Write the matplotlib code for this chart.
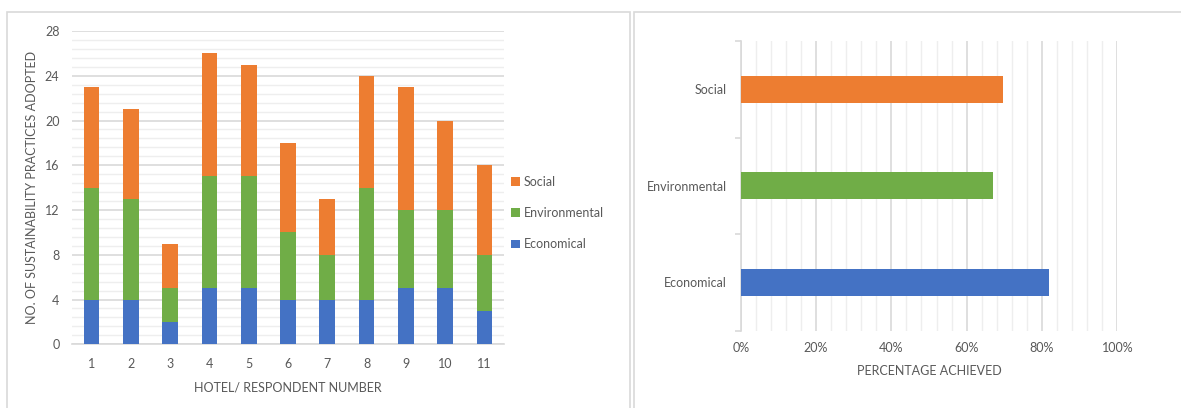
import matplotlib.pyplot as plt
from matplotlib.patches import Rectangle
from matplotlib.ticker import MultipleLocator, PercentFormatter

plt.rcParams['font.family'] = ['Lato', 'DejaVu Sans']

# ---------------- data ----------------
hotels = ['1', '2', '3', '4', '5', '6', '7', '8', '9', '10', '11']
economical = [4, 4, 2, 5, 5, 4, 4, 4, 5, 5, 3]
environmental = [10, 9, 3, 10, 10, 6, 4, 10, 7, 7, 5]
social = [9, 8, 4, 11, 10, 8, 5, 10, 11, 8, 8]

categories = ['Economical', 'Environmental', 'Social']
achieved = [81.8, 66.9, 69.7]

c_econ = '#4472C4'
c_env = '#70AD47'
c_soc = '#ED7D31'
txt = '#595959'
W, H = 1181, 408

fig = plt.figure(figsize=(W / 100, H / 100), dpi=100)

# panel borders
fig.patches.append(Rectangle((7 / W, -0.1), (630 - 7) / W, 1 - 11.5 / H + 0.1,
                             transform=fig.transFigure, fill=False,
                             edgecolor='#D9D9D9', lw=1.2))
fig.patches.append(Rectangle((634 / W, -0.1), (1190 - 634) / W, 1 - 11.5 / H + 0.1,
                             transform=fig.transFigure, fill=False,
                             edgecolor='#D9D9D9', lw=1.2))

# ---------------- left: stacked bars ----------------
ax1 = fig.add_axes([72 / W, 1 - 344.3 / H, (504 - 72) / W, (344.3 - 31) / H])
x = range(len(hotels))
bottom2 = [a + b for a, b in zip(economical, environmental)]
ax1.bar(x, economical, width=0.4, color=c_econ, label='Economical', zorder=3)
ax1.bar(x, environmental, width=0.4, bottom=economical, color=c_env,
        label='Environmental', zorder=3)
ax1.bar(x, social, width=0.4, bottom=bottom2, color=c_soc, label='Social', zorder=3)
ax1.set_xlim(-0.5, len(hotels) - 0.5)
ax1.set_ylim(0, 28)
ax1.yaxis.set_major_locator(MultipleLocator(4))
ax1.yaxis.set_minor_locator(MultipleLocator(0.8))
ax1.grid(axis='y', which='major', color='#D9D9D9', lw=1.2, zorder=0)
ax1.grid(axis='y', which='minor', color='#EEEEEE', lw=1.0, zorder=0)
ax1.set_xticks(list(x))
ax1.set_xticklabels(hotels)
ax1.tick_params(which='both', length=0, colors=txt, labelsize=9)
ax1.tick_params(axis='x', pad=10)
ax1.tick_params(axis='y', pad=9)
for s in ['top', 'right', 'left']:
    ax1.spines[s].set_visible(False)
ax1.spines['bottom'].set_color('#D9D9D9')
ax1.spines['bottom'].set_linewidth(1.2)
ax1.set_xlabel('HOTEL/ RESPONDENT NUMBER', color=txt, fontsize=9, labelpad=8)
ax1.set_ylabel('NO. OF SUSTAINABILITY PRACTICES ADOPTED', color=txt, fontsize=9,
               labelpad=5)
h, l = ax1.get_legend_handles_labels()
leg = ax1.legend(h[::-1], l[::-1], loc='center left', bbox_to_anchor=(1.005, 0.419),
                 bbox_transform=ax1.transAxes, borderaxespad=0,
                 frameon=False, fontsize=9, handlelength=0.7, handleheight=0.7,
                 handletextpad=0.3, labelspacing=1.55)
for t in leg.get_texts():
    t.set_color(txt)

# ---------------- right: horizontal bars ----------------
ax2 = fig.add_axes([740.7 / W, 1 - 330.7 / H, (1117.3 - 740.7) / W, (330.7 - 41) / H])
y = range(len(categories))
ax2.barh(y, achieved, height=0.28, color=[c_econ, c_env, c_soc], zorder=3)
ax2.set_xlim(0, 100)
ax2.set_ylim(-0.5, len(categories) - 0.5)
ax2.xaxis.set_major_locator(MultipleLocator(20))
ax2.xaxis.set_minor_locator(MultipleLocator(4))
ax2.xaxis.set_major_formatter(PercentFormatter(decimals=0))
ax2.grid(axis='x', which='major', color='#D9D9D9', lw=1.2, zorder=0)
ax2.grid(axis='x', which='minor', color='#EEEEEE', lw=1.0, zorder=0)
ax2.set_yticks(list(y))
ax2.set_yticklabels(categories)
ax2.set_yticks([-0.5, 0.5, 1.5, 2.5], minor=True)
ax2.tick_params(axis='x', which='both', length=0, colors=txt, labelsize=9, pad=8)
ax2.tick_params(axis='y', which='major', length=0, colors=txt, labelsize=9, pad=10)
ax2.tick_params(axis='y', which='minor', length=4, color='#D9D9D9', width=1.2)
for s in ['top', 'right', 'bottom']:
    ax2.spines[s].set_visible(False)
ax2.spines['left'].set_color('#D9D9D9')
ax2.spines['left'].set_linewidth(1.2)
ax2.set_xlabel('PERCENTAGE ACHIEVED', color=txt, fontsize=9, labelpad=8)

fig.savefig('out.png', dpi=100)
